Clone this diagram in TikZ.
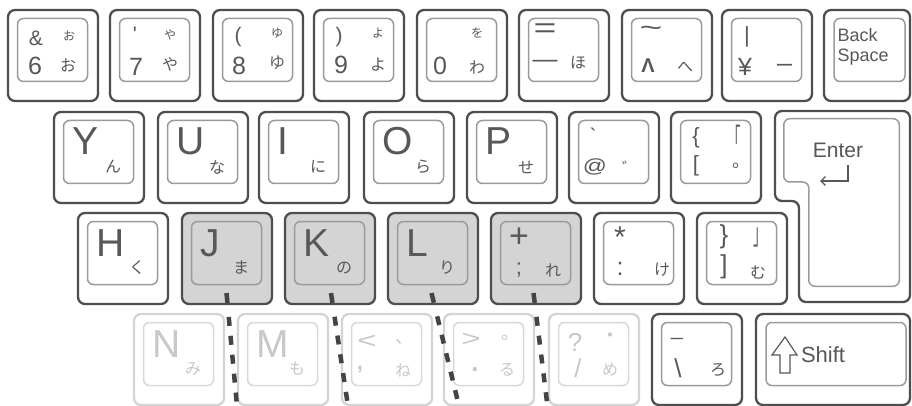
\documentclass[tikz,border=0pt]{standalone}
\usepackage{fontspec}
\setmainfont{Liberation Sans}
\newfontfamily\jp{Noto Sans CJK JP}
\usepackage{graphicx}
\usetikzlibrary{arrows.meta}
\definecolor{kdark}{HTML}{4E4E4E}
\definecolor{klight}{HTML}{9A9A9A}
\definecolor{ktext}{HTML}{585858}
\definecolor{kfill}{HTML}{D4D4D5}
\definecolor{kfade}{HTML}{D4D4D4}
\definecolor{kfadei}{HTML}{D8D8D8}
\definecolor{kfadetext}{HTML}{C8C8C8}
\definecolor{kdash}{HTML}{444444}
\newcommand{\kfs}[1]{\fontsize{#1}{#1}\selectfont}
\newcommand{\KB}[2][]{%
  \node[keyout,#1] (#2) at (46,46.5) {};
  \node[keyin,#1] (#2i) at (45.5,41) {};}
\newcommand{\LK}[6][]{%
  \begin{scope}[shift={(#3,#4)}]
  \KB[#1]{#2}
  \node[big] (#2a) at (19,44) {#5};
  \node[kana] (#2b) at (60,56) {#6};
  \end{scope}}
\begin{document}
\begin{tikzpicture}[x=1pt,y=-1pt,
  kbo/.style={draw=kdark}, kbi/.style={draw=klight},
  keyout/.style={kbo, fill=white, line width=2.3pt, rounded corners=7pt, minimum width=90pt, minimum height=91pt, inner sep=0pt, outer sep=0pt},
  keyin/.style={kbi, line width=1.5pt, rounded corners=6pt, minimum width=70pt, minimum height=63pt, inner sep=0pt, outer sep=0pt},
  sel/.style={fill=kfill},
  ink/.style={text=ktext},
  txt/.style={ink, inner sep=0pt, outer sep=0pt},
  sym/.style={txt, font=\kfs{21}},
  dig/.style={txt, font=\kfs{25}},
  big/.style={txt, font=\kfs{39}, anchor=base west},
  kana/.style={txt, font=\jp\kfs{16}},
  kanas/.style={txt, font=\jp\kfs{12}},
  dashln/.style={draw=kdash, line width=4.5pt, dash pattern=on 10pt off 14pt on 9pt off 10pt on 9pt off 10pt on 9pt off 10pt on 9pt off 10pt on 9pt off 10pt}]
\useasboundingbox (0,0) rectangle (912,406);
\fill[white] (0,0) rectangle (912,406);
% ---------- row 1
\begin{scope}[shift={(7,9)}]\KB{k6}
\node[sym] (k6a) at (29,29) {\&};
\node[dig] (k6b) at (28,57) {6};
\node[kanas] (k6c) at (62,27) {お};
\node[kana] (k6d) at (61,56) {お};
\end{scope}
\begin{scope}[shift={(109,9)}]\KB{k7}
\node[sym] (k7a) at (26,25) {\textquotesingle};
\node[dig] (k7b) at (27,58) {7};
\node[kanas] (k7c) at (61,26) {や};
\node[kana] (k7d) at (61,55) {や};
\end{scope}
\begin{scope}[shift={(212,9)}]\KB{k8}
\node[sym] (k8a) at (26,28) {(};
\node[dig] (k8b) at (27,57) {8};
\node[kanas] (k8c) at (65,24) {ゆ};
\node[kana] (k8d) at (65,54) {ゆ};
\end{scope}
\begin{scope}[shift={(313,9)}]\KB{k9}
\node[sym] (k9a) at (26,28) {)};
\node[dig] (k9b) at (28,56) {9};
\node[kanas] (k9c) at (65,24) {よ};
\node[kana] (k9d) at (65,56) {よ};
\end{scope}
\begin{scope}[shift={(416,9)}]\KB{k0}
\node[dig] (k0b) at (24,57) {0};
\node[kanas] (k0c) at (61,24) {を};
\node[kana] (k0d) at (61,58) {わ};
\end{scope}
\begin{scope}[shift={(518,9)}]\KB{kmin}
\node[sym,font=\kfs{28}] (kmina) at (27,22) {\scalebox{1.4}[1]{=}};
\node[dig] (kminb) at (27,55) {—};
\node[kana] (kminc) at (60,54) {ほ};
\end{scope}
\begin{scope}[shift={(621,9)}]\KB{kcar}
\node[sym,font=\kfs{26}] (kcara) at (30,22) {\scalebox{1.5}[1]{\textasciitilde}};
\node[sym,font=\bfseries\kfs{20}] (kcarb) at (27,57) {Λ};
\node[kana] (kcarc) at (64,58) {へ};
\end{scope}
\begin{scope}[shift={(721,9)}]\KB{kyen}
\node[sym,font=\kfs{22}] (kyena) at (26,28) {\textbar};
\node[dig] (kyenb) at (24,58) {¥};
\node[kana,font=\jp\kfs{19}] (kyenc) at (64,59) {ー};
\end{scope}
\begin{scope}[shift={(823,9)}]
\node[keyout,minimum width=86pt] (kbs) at (44,46.5) {};
\node[keyin,minimum width=71pt] (kbsi) at (46.5,41) {};
\node[txt,font=\fontsize{18}{20}\selectfont,align=left,anchor=north west] (kbsa) at (14.5,19) {Back\\Space};
\end{scope}
% ---------- row 2
\LK{kY}{53}{111}{Y}{ん}
\LK{kU}{157}{111}{U}{な}
\LK{kI}{258}{111}{I}{に}
\LK{kO}{363}{111}{O}{ら}
\LK{kP}{466}{111}{P}{せ}
\begin{scope}[shift={(568,111)}]\KB{kat}
\node[sym] (kata) at (25,25) {\textasciigrave};
\node[sym,font=\kfs{19}] (katb) at (27,56) {\scalebox{1.25}[1]{@}};
\node[kana] (katc) at (62,57) {゛};
\end{scope}
\begin{scope}[shift={(670,111)}]\KB{klb}
\node[sym,font=\kfs{22}] (klba) at (26,27) {\{};
\node[sym,font=\kfs{22}] (klbb) at (26,55) {[};
\node[kana,font=\jp\kfs{30}] (klbc) at (64,27) {\scalebox{0.45}[1]{「}};
\node[kana,font=\jp\kfs{18}] (klbd) at (71,55) {。};
\end{scope}
% Enter
\draw[kbo, fill=white, line width=2.3pt, rounded corners=7pt] (775,111) -- (910,111) -- (910,302) -- (799,302) -- (799,201) -- (775,201) -- cycle;
\draw[kbi, line width=1.5pt, rounded corners=6pt] (783.75,118.75) -- (899.25,118.75) -- (899.25,286.25) -- (808.75,286.25) -- (808.75,182) -- (783.75,182) -- cycle;
\node[txt,font=\kfs{21}] (kent) at (838,150) {Enter};
\coordinate (ea) at (848,165);
\coordinate (eb) at (848,181);
\coordinate (ec) at (820,181);
\draw[ktext, line width=1.3pt, -{Straight Barb[length=4.5pt,width=9pt]}] (ea) -- (eb) -- (ec);
% ---------- row 3
\LK{kH}{77}{212}{H}{く}
\LK[sel]{kJ}{181}{212}{J}{ま}
\LK[sel]{kK}{284}{212}{K}{の}
\LK[sel]{kL}{387}{212}{L}{り}
\begin{scope}[shift={(490,212)}]\KB[sel]{ksc}
\node[sym,font=\kfs{34}] (ksca) at (29,26) {+};
\node[sym,font=\kfs{22}] (kscb) at (29,58) {;};
\node[kana] (kscc) at (63,58) {れ};
\end{scope}
\begin{scope}[shift={(593,212)}]\KB{kco}
\node[sym,font=\kfs{30}] (kcoa) at (27,25) {*};
\node[sym,font=\kfs{25}] (kcob) at (27,57) {:};
\node[kana] (kcoc) at (69,58) {け};
\end{scope}
\begin{scope}[shift={(696,212)}]\KB{krb}
\node[sym,font=\kfs{26}] (krba) at (28,25) {\}};
\node[sym,font=\kfs{26}] (krbb) at (28,55) {]};
\node[kana,font=\jp\kfs{30}] (krbc) at (64,25) {\scalebox{0.45}[1]{」}};
\node[kana] (krbd) at (62,60) {む};
\end{scope}
% ---------- row 4 (faded)
\begin{scope}[kbo/.style={draw=kfade}, kbi/.style={draw=kfadei}, ink/.style={text=kfadetext}]
\LK{kN}{133}{313}{N}{み}
\LK{kM}{237}{313}{M}{も}
\begin{scope}[shift={(341,313)}]\KB{kcm}
\node[sym,font=\kfs{23}] (kcma) at (26,29) {\scalebox{1.45}[1]{<}};
\node[kana,font=\jp\kfs{18}] (kcmb) at (63,29) {、};
\node[sym,font=\bfseries\kfs{22}] (kcmc) at (19,57) {,};
\node[kana] (kcmd) at (62,57) {ね};
\end{scope}
\begin{scope}[shift={(443,313)}]\KB{kpd}
\node[sym,font=\kfs{23}] (kpda) at (28,27) {\scalebox{1.45}[1]{>}};
\node[kana,font=\jp\kfs{18}] (kpdb) at (67,25) {。};
\node[sym,font=\bfseries\kfs{26}] (kpdc) at (32,57) {.};
\node[kana] (kpdd) at (64,57) {る};
\end{scope}
\begin{scope}[shift={(548,313)}]\KB{ksl}
\node[sym,font=\kfs{26}] (ksla) at (27,29) {?};
\node[kana,font=\jp\kfs{20}] (kslb) at (62,25) {・};
\node[sym,font=\kfs{26}] (kslc) at (30,55) {/};
\node[kana] (ksld) at (62,57) {め};
\end{scope}
\end{scope}
\begin{scope}[shift={(651,313)}]\KB{kbsl}
\node[sym] (kbsla) at (26,25) {\_};
\node[sym,font=\kfs{26}] (kbslb) at (27,55) {\textbackslash};
\node[kana] (kbslc) at (67,57) {ろ};
\end{scope}
\begin{scope}[shift={(755,313)}]
\node[keyout,minimum width=154pt] (kshift) at (78,46.5) {};
\node[keyin,minimum width=140pt] (kshifti) at (81,41) {};
\draw[ktext, line width=1.2pt, line join=miter] (30,24) -- (42,42) -- (35,42) -- (35,60) -- (25,60) -- (25,42) -- (17,42) -- cycle;
\node[txt,font=\kfs{22},anchor=west] (kshifta) at (46,42) {Shift};
\end{scope}
% ---------- dashed guide lines
\coordinate (j1) at (226.5,293); \coordinate (j2) at (237,406);
\coordinate (k1) at (331,293);   \coordinate (k2) at (348,406);
\coordinate (l1) at (431.5,293); \coordinate (l2) at (459,406);
\coordinate (s1) at (533.5,293); \coordinate (s2) at (547.5,406);
\draw[dashln] (j1) -- (j2);
\draw[dashln] (k1) -- (k2);
\draw[dashln] (l1) -- (l2);
\draw[dashln] (s1) -- (s2);
\end{tikzpicture}
\end{document}
